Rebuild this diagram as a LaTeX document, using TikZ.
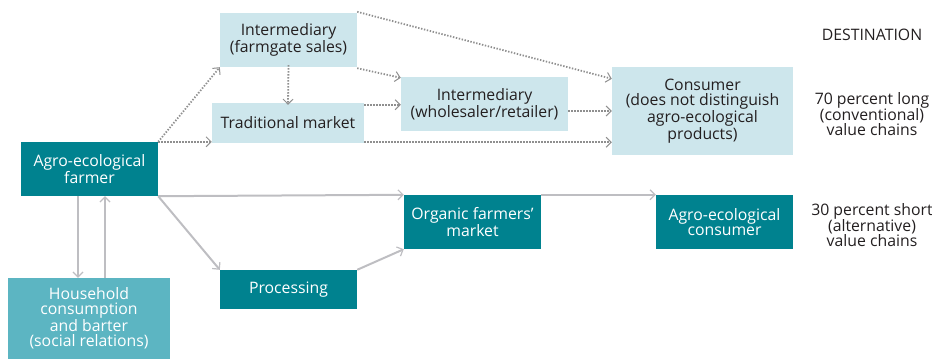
\documentclass[tikz,border=0pt]{standalone}
\usepackage{fontspec}
\setmainfont{Open Sans}
\usetikzlibrary{arrows.meta}
\definecolor{teal}{HTML}{00828F}
\definecolor{lightb}{HTML}{CDE6EC}
\definecolor{midteal}{HTML}{5CB5C2}
\definecolor{txt}{HTML}{231F20}
\definecolor{solidg}{HTML}{BEBEC2}
\definecolor{dotg}{HTML}{8F8F8F}
\begin{document}
\begin{tikzpicture}[x=1pt,y=-1pt,
  base/.style={rectangle,inner sep=0pt,align=center,font=\fontsize{15.8}{15}\selectfont},
  lightbox/.style={base,fill=lightb,text=txt},
  darkbox/.style={base,fill=teal,text=white},
  hhbox/.style={base,fill=midteal,text=white},
  lbl/.style={align=center,text=txt,font=\fontsize{15.8}{15}\selectfont},
  dotarrow/.style={draw=dotg,line width=1.8pt,dash pattern=on 1.4pt off 1.6pt,
     -{Straight Barb[length=5pt,width=10pt,line width=1pt,color=dotg]}},
  solidarrow/.style={draw=solidg,line width=2pt,
     -{Straight Barb[length=5pt,width=10pt,line width=1.2pt,color=solidg]}}
]
\useasboundingbox (0,0) rectangle (932,359);

\node[lightbox,minimum width=137pt,minimum height=54pt] (fg) at (288.5,40) {Intermediary\\(farmgate sales)};
\node[lightbox,minimum width=152pt,minimum height=40pt] (tm) at (288,123) {Traditional market};
\node[lightbox,minimum width=167pt,minimum height=54pt] (ws) at (484.5,104) {Intermediary\\(wholesaler/retailer)};
\node[lightbox,minimum width=181pt,minimum height=88pt] (cons) at (702.5,111) {Consumer\\(does not distinguish\\agro-ecological\\products)};
\node[darkbox,minimum width=137pt,minimum height=54pt] (farmer) at (89.5,169) {Agro-ecological\\farmer};
\node[hhbox,minimum width=162pt,minimum height=81pt] (hh) at (89,318.5) {Household\\consumption\\and barter\\(social relations)};
\node[darkbox,minimum width=137pt,minimum height=39pt] (proc) at (288.5,289.5) {Processing};
\node[darkbox,minimum width=137pt,minimum height=54pt] (org) at (472.5,222) {Organic farmers’\\market};
\node[darkbox,minimum width=137pt,minimum height=54pt] (ac) at (724.5,222) {Agro-ecological\\consumer};

\node[lbl] (dest) at (872,35) {DESTINATION};
\node[lbl] (long) at (872,114) {70 percent long\\(conventional)\\value chains};
\node[lbl] (short) at (872,225) {30 percent short\\(alternative)\\value chains};

% dotted flows
\draw[dotarrow] (farmer.north east) -- (fg.south west);
\draw[dotarrow] (farmer.north east) -- (farmer.north east -| tm.west);
\draw[dotarrow] ([yshift=2pt]fg.south) -- ([yshift=-2pt]tm.north);
\draw[dotarrow] ([yshift=-1pt]fg.south east) -- ([yshift=-1pt]ws.north west);
\draw[dotarrow] ([yshift=1pt]fg.north east) -- ([yshift=-12pt]cons.north west);
\draw[dotarrow] ([yshift=-2pt]tm.north east) -- ([yshift=-2pt]tm.north east -| ws.west);
\draw[dotarrow] ([yshift=-7pt]ws.east) -- ([yshift=-7pt]ws.east -| cons.west);
\draw[dotarrow] ([yshift=1pt]tm.south east) -- ([yshift=1pt]tm.south east -| cons.west);

% solid flows
\draw[solidarrow] (farmer.south east) -- (org.north west);
\draw[solidarrow] (farmer.south east) -- (proc.north west);
\draw[solidarrow] (proc.north east) -- (org.south west);
\draw[solidarrow] (org.north east) -- (ac.north west);
\draw[solidarrow] ([xshift=-11.5pt]farmer.south) -- ([xshift=-11pt]hh.north);
\draw[solidarrow] ([xshift=16pt]hh.north) -- ([xshift=15.5pt]farmer.south);
\end{tikzpicture}
\end{document}
